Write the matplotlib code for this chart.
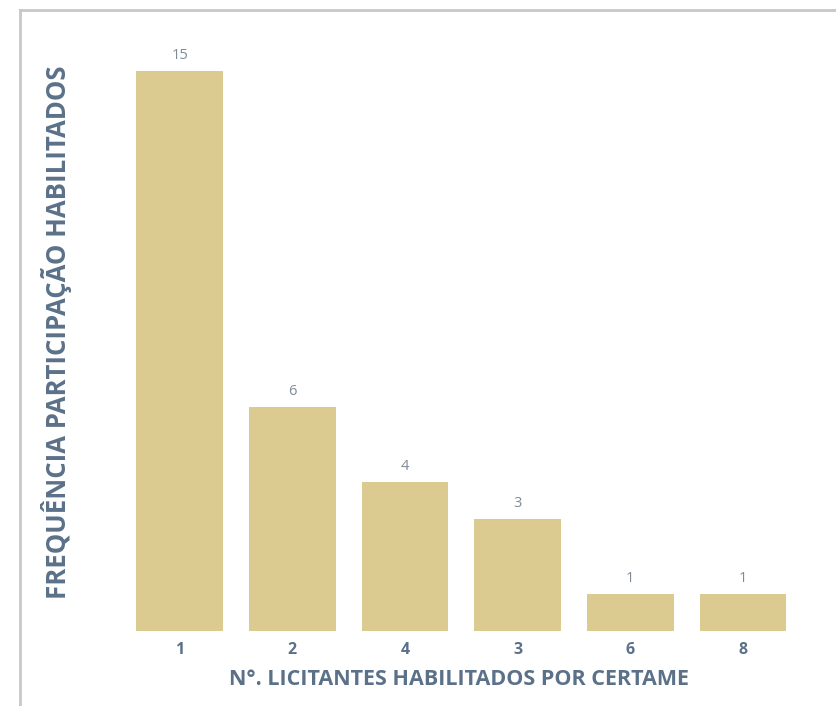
import matplotlib.pyplot as plt
from matplotlib.lines import Line2D

categorias = ['1', '2', '4', '3', '6', '8']
frequencias = [15, 6, 4, 3, 1, 1]

cor_barra = '#DBCB90'
cor_texto = '#5B7189'
cor_valor = '#7D8B99'

plt.rcParams['font.family'] = ['Open Sans', 'DejaVu Sans']

fig = plt.figure(figsize=(8.36, 7.06), dpi=100)
ax = fig.add_axes([0.141, 0.106, 0.815, 0.846])

x = range(len(categorias))
barras = ax.bar(x, frequencias, width=0.77, color=cor_barra)

for b, v in zip(barras, frequencias):
    ax.annotate(str(v), (b.get_x() + b.get_width() / 2, b.get_height()),
                xytext=(0, 6), textcoords='offset points',
                ha='center', va='bottom', fontsize=10.5, color=cor_valor)

ax.set_xticks(list(x))
ax.set_xticklabels(categorias, fontsize=11.5, fontweight='bold', color=cor_texto)
ax.tick_params(axis='x', length=0, pad=8)
ax.set_yticks([])
ax.set_xlim(-0.55, 5.5)
ax.set_ylim(0, 16)
for s in ax.spines.values():
    s.set_visible(False)

ax.set_xlabel('N°. LICITANTES HABILITADOS POR CERTAME', fontsize=15.5,
              fontweight='bold', color=cor_texto, labelpad=8)
ax.set_ylabel('FREQUÊNCIA PARTICIPAÇÃO HABILITADOS', fontsize=18.5,
              fontweight='bold', color=cor_texto, labelpad=33)

# moldura cinza da captura
fig.add_artist(Line2D([20 / 836, 1], [1 - 10 / 706, 1 - 10 / 706],
                      transform=fig.transFigure, color='#C8C8C8', lw=2))
fig.add_artist(Line2D([20 / 836, 20 / 836], [0, 1 - 10 / 706],
                      transform=fig.transFigure, color='#C8C8C8', lw=2))

fig.savefig('out.png', dpi=100)
